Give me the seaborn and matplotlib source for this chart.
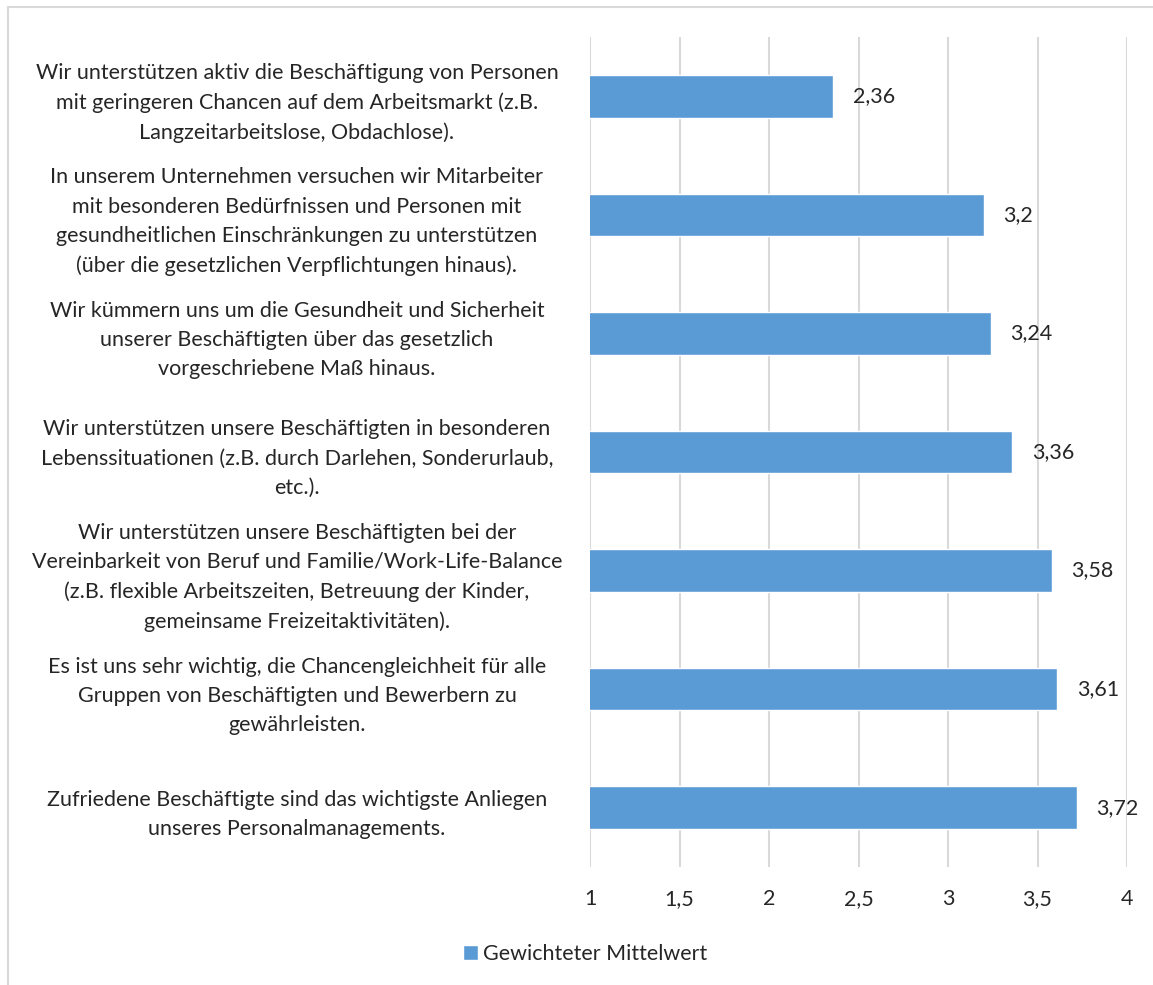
import pandas as pd
import matplotlib.pyplot as plt
import seaborn as sns
from matplotlib.patches import Rectangle

# Data
statements = [
    "Wir unterstützen aktiv die Beschäftigung von Personen\nmit geringeren Chancen auf dem Arbeitsmarkt (z.B.\nLangzeitarbeitslose, Obdachlose).",
    "In unserem Unternehmen versuchen wir Mitarbeiter\nmit besonderen Bedürfnissen und Personen mit\ngesundheitlichen Einschränkungen zu unterstützen\n(über die gesetzlichen Verpflichtungen hinaus).",
    "Wir kümmern uns um die Gesundheit und Sicherheit\nunserer Beschäftigten über das gesetzlich\nvorgeschriebene Maß hinaus.",
    "Wir unterstützen unsere Beschäftigten in besonderen\nLebenssituationen (z.B. durch Darlehen, Sonderurlaub,\netc.).",
    "Wir unterstützen unsere Beschäftigten bei der\nVereinbarkeit von Beruf und Familie/Work-Life-Balance\n(z.B. flexible Arbeitszeiten, Betreuung der Kinder,\ngemeinsame Freizeitaktivitäten).",
    "Es ist uns sehr wichtig, die Chancengleichheit für alle\nGruppen von Beschäftigten und Bewerbern zu\ngewährleisten.",
    "Zufriedene Beschäftigte sind das wichtigste Anliegen\nunseres Personalmanagements.",
]
means = [2.36, 3.2, 3.24, 3.36, 3.58, 3.61, 3.72]
x_ticks = [1, 1.5, 2, 2.5, 3, 3.5, 4]
series_name = "Gewichteter Mittelwert"

df = pd.DataFrame({"Aussage": statements, "Wert": means, "Serie": series_name})

sns.set_theme(style="white")
plt.rcParams['font.family'] = ['Lato', 'DejaVu Sans']
fs = 15.5

fig = plt.figure(figsize=(11.53, 9.85), dpi=100)
ax = fig.add_axes([590 / 1153, 1 - 867 / 985, 537 / 1153, 830 / 985])

# figure frame
fig.patches.append(Rectangle((8 / 1153, -0.01), 1.1, 1 - 7 / 985 + 0.01,
                             transform=fig.transFigure, fill=False,
                             edgecolor='#D9D9D9', linewidth=1.5))

sns.barplot(data=df, y="Aussage", x="Wert", hue="Serie", palette=['#5B9BD5'],
            saturation=1, width=0.36, ax=ax, orient='h')

ax.set_xlim(1, 4)
ax.set_xticks(x_ticks)
ax.set_xticklabels([str(t).replace('.', ',') for t in x_ticks], fontsize=fs)
ax.grid(axis='x', color='#D9D9D9', linewidth=1.5)
ax.set_axisbelow(True)
for s in ax.spines.values():
    s.set_visible(False)
ax.set_xlabel("")
ax.set_ylabel("")
ax.tick_params(axis='x', length=0, pad=16)
ax.tick_params(axis='y', length=0, pad=211)
for lbl in ax.get_yticklabels():
    lbl.set_ha('center')
    lbl.set_multialignment('center')
    lbl.set_fontsize(fs)
    lbl.set_linespacing(1.58)

# value labels
for c in ax.containers:
    ax.bar_label(c, labels=[f"{v:g}".replace('.', ',') for v in c.datavalues],
                 padding=14, fontsize=fs)

ax.legend(loc='center', bbox_to_anchor=(585 / 1153, 1 - 954 / 985),
          bbox_transform=fig.transFigure, frameon=False, fontsize=fs,
          handlelength=0.7, handleheight=0.7, handletextpad=0.25)

fig.savefig("out.png", dpi=100)
